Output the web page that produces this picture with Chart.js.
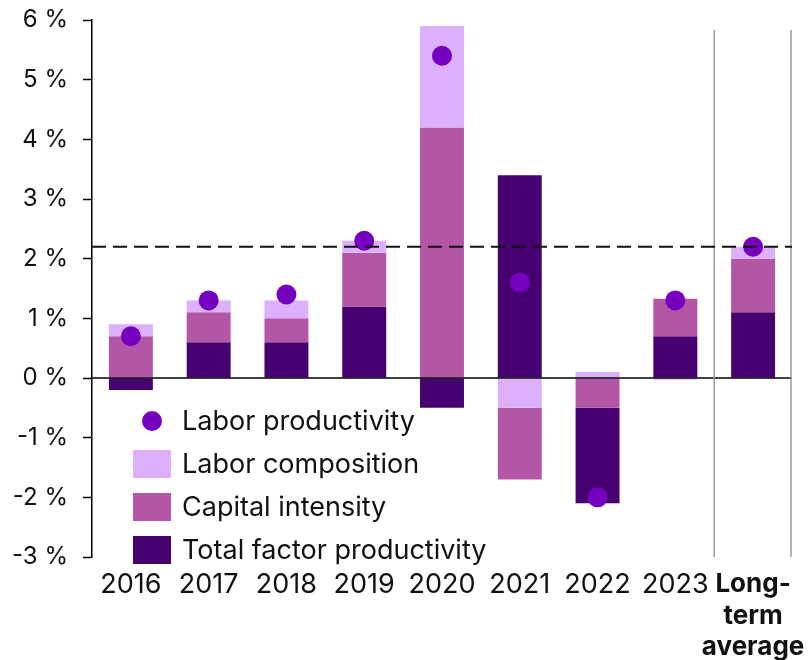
<!DOCTYPE html>
<html>
<head>
<meta charset="utf-8">
<script src="https://cdn.jsdelivr.net/npm/chart.js@4.4.1/dist/chart.umd.min.js"></script>
<style>
  html, body { margin: 0; padding: 0; background: #fff; }
  #wrap { position: relative; width: 810px; height: 660px; }
  #legend { position: absolute; left: 133px; top: 399px; font-family: Inter, "Noto Sans", sans-serif; font-size: 27px; color: #111; }
  .row { display: flex; align-items: center; height: 43px; }
  .mark { width: 38px; display: flex; justify-content: center; align-items: center; margin-right: 11px; }
  .dot { width: 20px; height: 20px; border-radius: 50%; }
  .sq { width: 38px; height: 28px; }
</style>
</head>
<body>
<div id="wrap">
  <canvas id="chart" width="810" height="660"></canvas>
  <div id="legend"></div>
</div>
<script>
const categories = ['2016', '2017', '2018', '2019', '2020', '2021', '2022', '2023', ['Long-', 'term', 'average']];
const laborProductivity = [0.7, 1.3, 1.4, 2.3, 5.4, 1.6, -2.0, 1.3, 2.2];
const laborComposition = [0.2, 0.2, 0.3, 0.2, 1.7, -0.5, 0.1, -0.03, 0.2];
const capitalIntensity = [0.7, 0.5, 0.4, 0.9, 4.2, -1.2, -0.5, 0.63, 0.9];
const totalFactor = [-0.2, 0.6, 0.6, 1.2, -0.5, 3.4, -1.6, 0.7, 1.1];
const yTicks = [-3, -2, -1, 0, 1, 2, 3, 4, 5, 6];

const colors = {
  dot: '#7600c0',
  labor: '#dcb0fc',
  capital: '#b356a6',
  tfp: '#460070'
};

// positives stack up from TFP, negatives stack down from labor composition
function buildRanges() {
  const series = { tfp: totalFactor, cap: capitalIntensity, lab: laborComposition };
  const out = { tfp: [], cap: [], lab: [] };
  categories.forEach((_, i) => {
    let up = 0, down = 0;
    ['tfp', 'cap', 'lab'].forEach(k => {
      const v = series[k][i];
      if (v >= 0) { out[k][i] = [up, up + v]; up += v; }
    });
    ['lab', 'cap', 'tfp'].forEach(k => {
      const v = series[k][i];
      if (v < 0) { out[k][i] = [down, down + v]; down += v; }
    });
  });
  return out;
}
const ranges = buildRanges();

const legendItems = [
  { label: 'Labor productivity', color: colors.dot, dot: true },
  { label: 'Labor composition', color: colors.labor },
  { label: 'Capital intensity', color: colors.capital },
  { label: 'Total factor productivity', color: colors.tfp }
];
document.getElementById('legend').innerHTML = legendItems.map(it =>
  `<div class="row"><span class="mark"><span class="${it.dot ? 'dot' : 'sq'}" style="background:${it.color}"></span></span><span>${it.label}</span></div>`
).join('');

const overlayLines = {
  id: 'overlayLines',
  afterDatasetsDraw(chart) {
    const { ctx, chartArea, scales: { x, y } } = chart;
    ctx.save();
    // zero line
    ctx.strokeStyle = '#000';
    ctx.lineWidth = 1.5;
    ctx.beginPath();
    ctx.moveTo(chartArea.left, y.getPixelForValue(0));
    ctx.lineTo(chartArea.right, y.getPixelForValue(0));
    ctx.stroke();
    // separators around long-term average
    const last = categories.length - 1;
    const sepX = (x.getPixelForValue(last - 1) + x.getPixelForValue(last)) / 2;
    ctx.strokeStyle = '#9a9a9a';
    ctx.lineWidth = 1.5;
    [sepX, chartArea.right - 1].forEach(px => {
      ctx.beginPath();
      ctx.moveTo(px, chartArea.top + 10);
      ctx.lineTo(px, chartArea.bottom);
      ctx.stroke();
    });
    // long-term average labor productivity
    const avgY = y.getPixelForValue(laborProductivity[last]);
    ctx.strokeStyle = '#111';
    ctx.lineWidth = 2;
    ctx.setLineDash([14, 7]);
    ctx.beginPath();
    ctx.moveTo(chartArea.left, avgY);
    ctx.lineTo(chartArea.right, avgY);
    ctx.stroke();
    ctx.restore();
  }
};

const barDefaults = { borderWidth: 0, barPercentage: 0.565, categoryPercentage: 1 };

new Chart(document.getElementById('chart'), {
  type: 'bar',
  data: {
    labels: categories,
    datasets: [
      {
        type: 'line',
        label: 'Labor productivity',
        data: laborProductivity,
        showLine: false,
        pointRadius: 10,
        pointBackgroundColor: colors.dot,
        pointBorderWidth: 0
      },
      { label: 'Labor composition', data: ranges.lab, backgroundColor: colors.labor, ...barDefaults },
      { label: 'Capital intensity', data: ranges.cap, backgroundColor: colors.capital, ...barDefaults },
      { label: 'Total factor productivity', data: ranges.tfp, backgroundColor: colors.tfp, ...barDefaults }
    ]
  },
  options: {
    responsive: false,
    animation: false,
    devicePixelRatio: 1,
    layout: { padding: { top: 0, right: 18, left: 0, bottom: 0 } },
    plugins: {
      legend: { display: false },
      tooltip: { enabled: false }
    },
    scales: {
      x: {
        stacked: true,
        grid: { display: false },
        border: { display: false },
        afterFit: (axis) => { axis.height = 103; },
        ticks: {
          padding: 4,
          color: '#111',
          maxRotation: 0,
          autoSkip: false,
          font: (c) => c.index === categories.length - 1
            ? { family: 'Inter', size: 26, weight: 'bold', lineHeight: 1.2 }
            : { family: 'Inter', size: 27, weight: 'normal' }
        }
      },
      y: {
        min: yTicks[0],
        max: yTicks[yTicks.length - 1],
        afterFit: (axis) => {
          axis.width = 92;
          axis.paddingTop = 20;
          axis.paddingBottom = 0;
        },
        afterBuildTicks: (axis) => { axis.ticks = yTicks.map(v => ({ value: v })); },
        border: { display: true, color: '#000', width: 1.5 },
        grid: { drawOnChartArea: false, drawTicks: true, tickLength: 9, tickColor: '#000', tickWidth: 1.5 },
        ticks: {
          padding: 15,
          color: '#111',
          font: { family: 'Inter', size: 24 },
          callback: (v) => `${v} %`
        }
      }
    }
  },
  plugins: [overlayLines]
});
</script>
</body>
</html>
